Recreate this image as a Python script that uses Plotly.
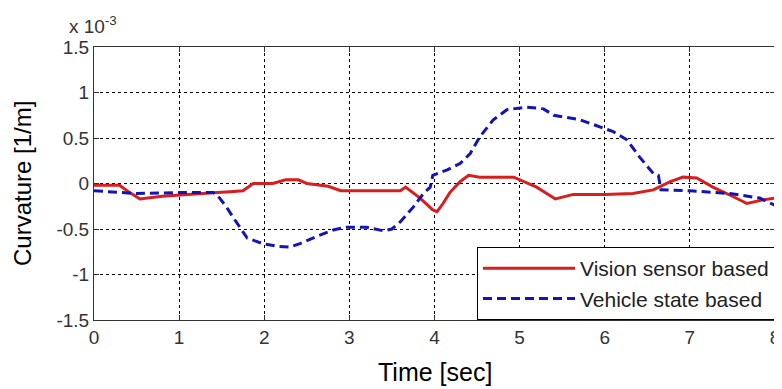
import plotly.graph_objects as go

# Time [sec]
vision_t = [0, 0.3, 0.42, 0.54, 0.8, 1.0, 1.45, 1.6, 1.75, 1.87, 2.1, 2.25, 2.4, 2.5, 2.75, 2.9,
            3.6, 3.66, 3.83, 3.98, 4.03, 4.1, 4.18, 4.3, 4.4, 4.53, 4.93, 5.2, 5.42, 5.63, 6.0,
            6.33, 6.57, 6.77, 6.92, 7.08, 7.27, 7.5, 7.67, 7.86, 8.0]
# Curvature [1/m] x 10^-3
vision_y = [-0.02, -0.02, -0.1, -0.17, -0.14, -0.13, -0.1, -0.09, -0.08, 0.0, 0.0, 0.04, 0.04, 0.0, -0.03, -0.08,
            -0.08, -0.04, -0.16, -0.29, -0.31, -0.22, -0.1, 0.02, 0.09, 0.07, 0.07, -0.04, -0.17, -0.12, -0.12,
            -0.11, -0.07, 0.02, 0.07, 0.06, -0.04, -0.14, -0.22, -0.18, -0.16]

vehicle_t = [0, 0.3, 0.5, 1.0, 1.4, 1.45, 1.55, 1.64, 1.8, 1.98, 2.15, 2.3, 2.42, 2.62, 2.81, 2.97, 3.2, 3.4,
             3.5, 3.6, 3.75, 3.87, 3.95, 3.98, 4.15, 4.3, 4.42, 4.53, 4.69, 4.85, 5.08, 5.28, 5.4, 5.71, 5.94,
             6.1, 6.26, 6.41, 6.57, 6.63, 6.66, 7.0, 7.47, 7.67, 7.82, 8.0]
vehicle_y = [-0.08, -0.1, -0.11, -0.1, -0.1, -0.13, -0.25, -0.38, -0.6, -0.66, -0.69, -0.70, -0.66, -0.58, -0.51,
             -0.48, -0.48, -0.52, -0.50, -0.42, -0.26, -0.11, -0.04, 0.09, 0.15, 0.22, 0.33, 0.51, 0.70, 0.81,
             0.84, 0.82, 0.75, 0.70, 0.62, 0.57, 0.48, 0.29, 0.11, 0.09, -0.07, -0.08, -0.11, -0.14, -0.16, -0.24]

x_ticks = [0, 1, 2, 3, 4, 5, 6, 7, 8]
y_ticks = [-1.5, -1, -0.5, 0, 0.5, 1, 1.5]
y_tick_labels = ["-1.5", "-1", "-0.5", "0", "0.5", "1", "1.5"]

FONT = "Liberation Sans, Arial, sans-serif"

fig = go.Figure()
fig.add_trace(go.Scatter(x=vision_t, y=vision_y, mode="lines", name="Vision sensor based",
                         line=dict(color="#d81e1e", width=3)))
fig.add_trace(go.Scatter(x=vehicle_t, y=vehicle_y, mode="lines", name="Vehicle state based",
                         line=dict(color="#1414b4", width=3, dash="9px,5px")))

axis_common = dict(
    showline=True, linecolor="#333333", linewidth=1, mirror="ticks",
    ticks="inside", ticklen=5, tickcolor="#333333",
    showgrid=True, gridcolor="#000000", gridwidth=1, griddash="3px,3px",
    zeroline=False, tickfont=dict(family=FONT, size=19, color="#333333"),
    automargin=False,
)

fig.update_xaxes(range=[0, 8], tickvals=x_ticks, **axis_common)
fig.update_yaxes(range=[-1.5, 1.5], tickvals=y_ticks, ticktext=y_tick_labels, **axis_common)

fig.add_annotation(text="Time [sec]", xref="paper", yref="paper", x=0.5, y=-0.19,
                   xanchor="center", yanchor="middle", showarrow=False,
                   font=dict(family=FONT, size=25, color="#000000"))
fig.add_annotation(text="Curvature [1/m]", xref="paper", yref="paper", x=-0.105, y=0.5,
                   xanchor="center", yanchor="middle", textangle=-90, showarrow=False,
                   font=dict(family=FONT, size=24, color="#000000"))
fig.add_annotation(text="x 10<sup>-3</sup>", xref="paper", yref="paper", x=-0.04, y=1.03,
                   xanchor="left", yanchor="bottom", showarrow=False,
                   font=dict(family=FONT, size=19, color="#333333"))

# page body has an 8px margin; size the figure so the plot lands where the reference has it
fig.update_layout(
    width=774, height=381,
    margin=dict(l=86, r=7, t=39, b=69),
    paper_bgcolor="white", plot_bgcolor="white",
    showlegend=True,
    legend=dict(x=1, y=0, xanchor="right", yanchor="bottom",
                bgcolor="white", bordercolor="#000000", borderwidth=1,
                font=dict(family=FONT, size=21, color="#222222"),
                tracegroupgap=0, itemwidth=92),
)

fig.write_html("out.html")
